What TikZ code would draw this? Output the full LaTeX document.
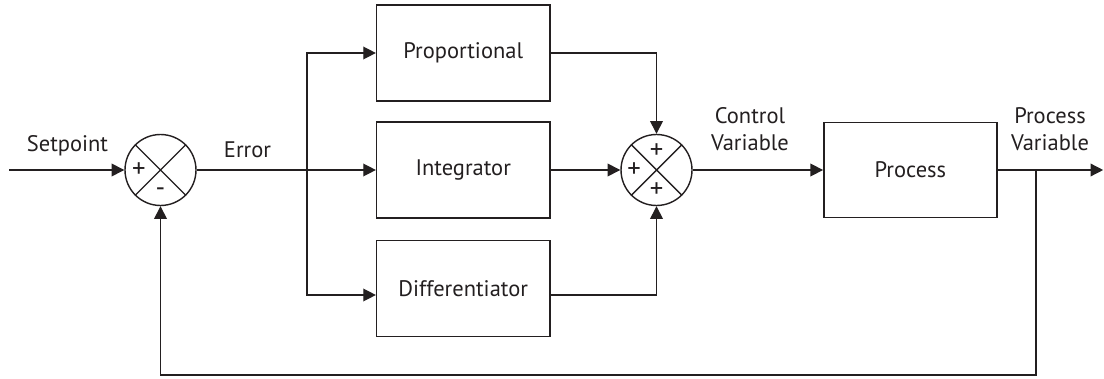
\documentclass[tikz,border=0pt]{standalone}
\usepackage{fontspec}
\setmainfont{PT Sans}
\usetikzlibrary{arrows.meta}
\definecolor{ink}{RGB}{35,31,32}
\begin{document}
\begin{tikzpicture}[>={Triangle[length=9pt,width=9pt]}, line width=1pt, draw=ink,
	block/.style={draw=ink, rectangle, minimum height=2.4cm, minimum width=4.33cm, font=\fontsize{16}{19}\selectfont, text=ink},
	sum/.style={draw=ink, circle, minimum size=1.775cm, inner sep=0pt},
	sgn/.style={font=\fontsize{19}{21}\selectfont, text=ink, inner sep=0pt},
	lbl/.style={font=\fontsize{16}{19}\selectfont, text=ink, align=center}]
				\useasboundingbox (0,0) rectangle (27.6,-9.475);
				\node[sum] (s1) at (4.0125,-4.25) {};
				\node[sum] (s2) at (16.4125,-4.25) {};
				\node[block] (prop) at (11.58,-1.325) {Proportional};
				\node[block] (int) at (11.58,-4.25) {Integrator};
				\node[block] (diff) at (11.58,-7.21) {Differentiator};
				\node[block, minimum height=2.375cm] (proc) at (22.76,-4.25) {Process};
				\coordinate (sp) at (0.225,-4.25);
				\coordinate (br) at (7.675,-4.25);
				\coordinate (fb) at (25.9,-4.25);
				\coordinate (out) at (27.58,-4.25);
				% crosses and signs
				\draw[ink] (s1.north west) -- (s1.south east) (s1.north east) -- (s1.south west);
				\draw[ink] (s2.north west) -- (s2.south east) (s2.north east) -- (s2.south west);
				\node[sgn] (s1a) at ([xshift=-0.54cm]s1.center) {+};
				\node[sgn] (s1b) at ([yshift=-0.55cm]s1.center) {-};
				\node[sgn] (s2a) at ([yshift=0.48cm]s2.center) {+};
				\node[sgn] (s2b) at ([xshift=-0.56cm]s2.center) {+};
				\node[sgn] (s2c) at ([yshift=-0.5cm]s2.center) {+};
				% labels
				\node[lbl] (lsp) at (1.6875,-3.65) {Setpoint};
				\node[lbl] (ler) at (6.1875,-3.74) {Error};
				\node[lbl, text width=3cm] (lcv) at (18.75,-3.225) {Control\\Variable};
				\node[lbl, text width=3cm] (lpv) at (26.25,-3.225) {Process\\Variable};
				% connectors
				\draw[->, ink] (sp) -- (s1.west);
				\draw[->, ink] (s1.east) -- (int.west);
				\draw[->, ink] (br) |- (prop.west);
				\draw[->, ink] (br) |- ([yshift=-0.165cm]diff.west);
				\draw[->, ink] (prop.east) -| (s2.north);
				\draw[->, ink] (int.east) -- (s2.west);
				\draw[->, ink] ([yshift=-0.165cm]diff.east) -| (s2.south);
				\draw[->, ink] (s2.east) -- (proc.west);
				\draw[->, ink] (proc.east) -- (out);
				\draw[->, ink] (fb) -- ++(0,-5.125) -| (s1.south);
			\end{tikzpicture}
\end{document}
